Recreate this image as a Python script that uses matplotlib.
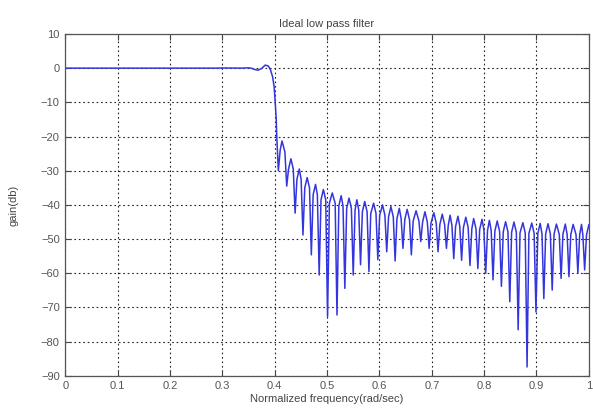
import numpy as np
import matplotlib
matplotlib.use("Agg")
import matplotlib.pyplot as plt

# Passband and transition (normalized frequency, gain in dB)
pass_freq = [0.0, 0.10, 0.20, 0.29, 0.30, 0.34, 0.347, 0.355, 0.362, 0.368, 0.375,
             0.382, 0.388, 0.392, 0.396, 0.399, 0.401, 0.403, 0.404]
pass_gain = [0.0, 0.0, 0.0, 0.0, 0.05, 0.0, 0.1, 0.0, -0.4, -0.6, -0.1,
             0.9, 0.6, -0.5, -2.5, -5.5, -10.0, -15.0, -20.0]

# Stopband nulls (dips)
dip_freq = [0.407, 0.423, 0.439, 0.454, 0.470, 0.485, 0.501, 0.519, 0.534, 0.550,
            0.564, 0.580, 0.597, 0.614, 0.630, 0.645, 0.661, 0.679, 0.695, 0.712,
            0.728, 0.742, 0.757, 0.773, 0.788, 0.803, 0.817, 0.833, 0.849, 0.865,
            0.882, 0.899, 0.914, 0.930, 0.947, 0.962, 0.979, 0.992]
dip_gain = [-30.0, -34.5, -42.4, -48.8, -54.6, -60.5, -72.7, -72.2, -64.4, -60.5,
            -57.5, -59.5, -56.0, -53.7, -56.4, -52.7, -54.6, -50.7, -52.7, -53.7,
            -52.7, -55.7, -56.2, -57.7, -58.6, -60.0, -61.9, -63.8, -68.3, -76.5,
            -87.4, -71.3, -67.4, -64.9, -61.5, -61.0, -60.0, -59.0]

# Stopband lobe peaks
peak_freq = [0.414, 0.431, 0.447, 0.462, 0.478, 0.493, 0.510, 0.527, 0.542, 0.557,
             0.572, 0.589, 0.606, 0.622, 0.638, 0.653, 0.670, 0.687, 0.704, 0.720,
             0.735, 0.750, 0.765, 0.780, 0.796, 0.810, 0.825, 0.841, 0.857, 0.874,
             0.891, 0.907, 0.922, 0.938, 0.955, 0.970, 0.986, 1.000]
peak_gain = [-21.3, -26.5, -29.5, -32.0, -34.0, -35.5, -36.5, -37.3, -38.0, -38.5,
             -39.0, -39.5, -40.0, -40.5, -41.0, -41.3, -41.7, -42.0, -42.3, -42.7,
             -43.0, -43.3, -43.6, -44.0, -44.2, -44.5, -44.7, -44.9, -45.0, -45.2,
             -45.3, -45.4, -45.5, -45.6, -45.6, -45.7, -45.7, -45.8]

# Lobe shoulders (rounded lobe tops, left and right of each peak)
shoulder_left_freq = [0.4105, 0.4265, 0.4425, 0.4575, 0.4735, 0.4885, 0.5045, 0.5225,
                      0.5375, 0.5535, 0.5675, 0.5835, 0.6005, 0.6175, 0.6335, 0.6485,
                      0.6645, 0.6825, 0.6985, 0.7155, 0.7315, 0.7455, 0.7605, 0.7765,
                      0.7915, 0.8065, 0.8205, 0.8365, 0.8525, 0.8685, 0.8855, 0.9025,
                      0.9175, 0.9335, 0.9505, 0.9655, 0.9825, 0.9955]
shoulder_left_gain = [-24.0, -29.5, -32.5, -35.0, -37.0, -38.5, -39.5, -40.3, -41.0, -41.5,
                      -42.0, -42.5, -43.0, -43.5, -44.0, -44.3, -44.7, -45.0, -45.3, -45.7,
                      -46.0, -46.3, -46.6, -47.0, -47.2, -47.5, -47.7, -47.9, -48.0, -48.2,
                      -48.3, -48.4, -48.5, -48.6, -48.6, -48.7, -48.7, -48.8]
shoulder_right_freq = [0.4195, 0.4355, 0.4505, 0.4665, 0.4815, 0.4975, 0.5155, 0.5305,
                       0.5465, 0.5605, 0.5765, 0.5935, 0.6105, 0.6265, 0.6415, 0.6575,
                       0.6755, 0.6915, 0.7085, 0.7245, 0.7385, 0.7535, 0.7695, 0.7845,
                       0.7995, 0.8135, 0.8295, 0.8455, 0.8615, 0.8785, 0.8955, 0.9105,
                       0.9265, 0.9435, 0.9585, 0.9755, 0.9885]
shoulder_right_gain = [-24.5, -29.5, -32.5, -35.0, -37.0, -38.5, -39.5, -40.3, -41.0, -41.5,
                       -42.0, -42.5, -43.0, -43.5, -44.0, -44.3, -44.7, -45.0, -45.3, -45.7,
                       -46.0, -46.3, -46.6, -47.0, -47.2, -47.5, -47.7, -47.9, -48.0, -48.2,
                       -48.3, -48.4, -48.5, -48.6, -48.6, -48.7, -48.7]

x_ticks = [0, 0.1, 0.2, 0.3, 0.4, 0.5, 0.6, 0.7, 0.8, 0.9, 1]
x_tick_labels = ["0", "0.1", "0.2", "0.3", "0.4", "0.5", "0.6", "0.7", "0.8", "0.9", "1"]
y_ticks = [10, 0, -10, -20, -30, -40, -50, -60, -70, -80, -90]

# Assemble the curve
stop_f = np.concatenate([dip_freq, peak_freq, shoulder_left_freq, shoulder_right_freq])
stop_g = np.concatenate([dip_gain, peak_gain, shoulder_left_gain, shoulder_right_gain])
order = np.argsort(stop_f, kind='stable')
freq = np.concatenate([pass_freq, stop_f[order]])
gain = np.concatenate([pass_gain, stop_g[order]])

plt.rcParams['font.family'] = ['Liberation Sans', 'DejaVu Sans']
fig = plt.figure(figsize=(5.93, 4.09), dpi=100)
ax = fig.add_axes([0.110, 0.081, 0.883, 0.836])

ax.plot(freq, gain, color='#3535dd', linewidth=1.1)

ax.set_xlim(0, 1)
ax.set_ylim(-90, 10)
ax.set_xticks(x_ticks)
ax.set_xticklabels(x_tick_labels)
ax.set_yticks(y_ticks)
ax.grid(True, color='#222222', linestyle=(0, (1.5, 2.5)), linewidth=0.8)
ax.tick_params(direction='in', length=4, width=0.8, top=True, right=True,
               labelsize=8, labelcolor='#555555', colors='#444444', pad=4)
for s in ax.spines.values():
    s.set_color('#555555')
    s.set_linewidth(0.9)

ax.set_title('Ideal low pass filter', fontsize=8, color='#444444', pad=5)
ax.set_xlabel('Normalized frequency(rad/sec)', fontsize=8, color='#444444', labelpad=2)
ax.set_ylabel('gain(db)', fontsize=8, color='#444444', labelpad=16)

fig.savefig('out.png', dpi=100, facecolor='white')
